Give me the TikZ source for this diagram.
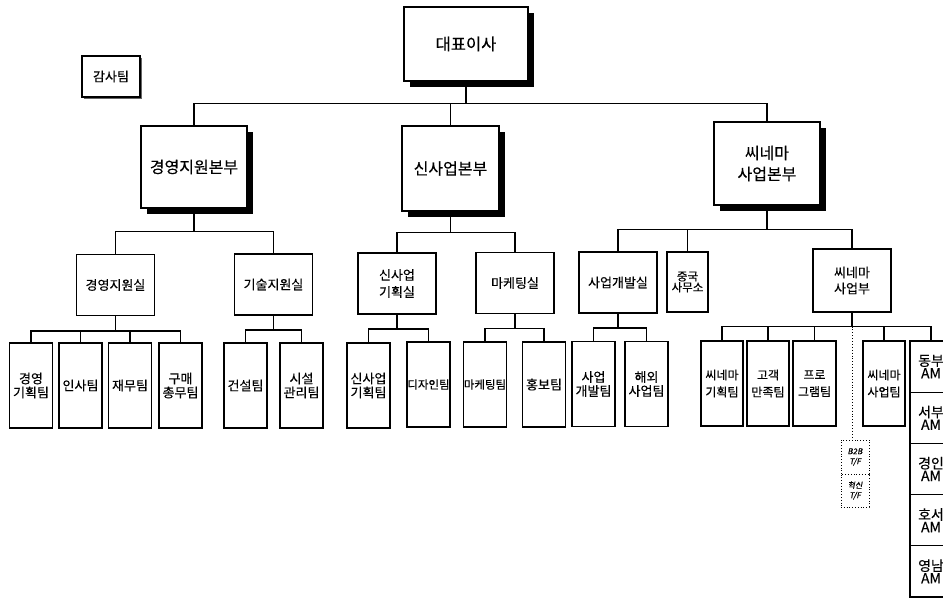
\documentclass[tikz,border=0pt]{standalone}
\usepackage{fontspec}
\setmainfont{Noto Sans CJK KR}[FakeBold=0.3]
\newfontfamily\krit[FakeSlant=0.2,FakeBold=0.3]{Noto Sans CJK KR}
\usetikzlibrary{shadows}
\begin{document}
\begin{tikzpicture}[x=1pt,y=-1pt,
  box/.style={draw, line width=1.1pt, fill=white, inner sep=0pt, align=center},
  fs/.style 2 args={font=\fontsize{#1pt}{#2pt}\selectfont},
  bigshadow/.style={drop shadow={shadow xshift=6pt, shadow yshift=-6pt, fill=black, opacity=1}},
  smallshadow/.style={drop shadow={shadow xshift=2pt, shadow yshift=-2pt, fill=black!60, opacity=1}},
  hqbox/.style={box, bigshadow, fs={16}{21}},
  dbox/.style={box, minimum width=78pt, minimum height=61pt, fs={13}{17}},
  leaf/.style={box, minimum width=43pt, minimum height=85pt, fs={13}{14}},
  cleaf/.style={box, minimum width=43pt, minimum height=85pt, fs={12}{17}},
  ambox/.style={box, minimum width=42pt, minimum height=51.2pt, fs={14}{12.5}},
  tfbox/.style={draw, dotted, line width=0.8pt, fill=white, inner sep=0pt, align=center, minimum width=28pt, font=\krit\fontsize{8pt}{10pt}\selectfont},
  conn/.style={draw, line width=1.2pt},
  dconn/.style={draw, dotted, line width=0.9pt}
]
\useasboundingbox (0,0) rectangle (943,599);
\clip (0,0) rectangle (943,599);

% top
\node[box, bigshadow, minimum width=124pt, minimum height=74pt, fs={16.5}{19}] (ceo) at (466,44) {대표이사};
\node[box, smallshadow, minimum width=58pt, minimum height=41pt, fs={13}{14}] (audit) at (111,76.5) {감사팀};

% headquarters
\node[hqbox, minimum width=106pt, minimum height=82pt] (hq1) at (194,167) {경영지원본부};
\node[hqbox, minimum width=97pt, minimum height=85pt] (hq2) at (450.5,168.5) {신사업본부};
\node[hqbox, minimum width=106pt, minimum height=83pt] (hq3) at (767,163.5) {씨네마\\사업본부};

% departments
\node[dbox] (d1) at (115.5,285) {경영지원실};
\node[dbox] (d2) at (273.5,284.5) {기술지원실};
\node[dbox] (d3) at (397,283.5) {신사업\\기획실};
\node[dbox] (d4) at (515,283) {마케팅실};
\node[dbox] (d5) at (618,282.5) {사업개발실};
\node[box, minimum width=41pt, minimum height=60pt, fs={11.5}{11}] (d6) at (687.5,282) {중국\\사무소};
\node[dbox, minimum height=63pt, fs={13}{16}] (d7) at (852,280.5) {씨네마\\사업부};

% teams
\node[leaf] (t1) at (31,385.5) {경영\\기획팀};
\node[leaf] (t2) at (80.5,385.5) {인사팀};
\node[leaf] (t3) at (130,385.5) {재무팀};
\node[leaf] (t4) at (180.5,385.5) {구매\\총무팀};
\node[leaf] (t5) at (245.5,385.5) {건설팀};
\node[leaf] (t6) at (301.5,385.5) {시설\\관리팀};
\node[leaf] (t7) at (368.5,385.5) {신사업\\기획팀};
\node[leaf, fs={11.5}{14}] (t8) at (428.5,384.5) {디자인팀};
\node[leaf, minimum width=42pt, fs={11.5}{14}] (t9) at (485,384.5) {마케팅팀};
\node[leaf] (t10) at (544,384.5) {홍보팀};
\node[leaf] (t11) at (593.5,384) {사업\\개발팀};
\node[leaf] (t12) at (646.5,384) {해외\\사업팀};
\node[cleaf, minimum width=42pt] (t13) at (722,383.5) {씨네마\\기획팀};
\node[cleaf, minimum width=42pt] (t14) at (768,383.5) {고객\\만족팀};
\node[cleaf] (t15) at (814.5,383.5) {프로\\그램팀};
\node[cleaf, minimum width=42pt] (t16) at (884,383.5) {씨네마\\사업팀};

% regional AM column
\node[ambox] (a1) at (931,366.6) {동부\\AM};
\node[ambox] (a2) at (931,417.8) {서부\\AM};
\node[ambox] (a3) at (931,469.0) {경인\\AM};
\node[ambox] (a4) at (931,520.2) {호서\\AM};
\node[ambox] (a5) at (931,571.4) {영남\\AM};

% task forces
\node[tfbox, minimum height=34pt] (tf1) at (855,457) {B2B\\T/F};
\node[tfbox, minimum height=33pt] (tf2) at (855,490.5) {혁신\\T/F};

% connectors: level 0
\draw[conn] (ceo.south) -- ++(0,22) coordinate (j0);
\draw[conn] (hq1.north) |- (j0) -| (hq3.north);
\draw[conn] (j0) -| (hq2.north);

% level 1
\draw[conn] (hq1.south) -- ++(0,23) coordinate (j1);
\draw[conn] (d1.north) |- (j1) -| (d2.north);
\draw[conn] (hq2.south) -- ++(0,21) coordinate (j2);
\draw[conn] (d3.north) |- (j2) -| (d4.north);
\draw[conn] (hq3.south) -- ++(0,24) coordinate (j3);
\draw[conn] (d5.north) |- (j3) -| (d7.north);
\draw[conn] (j3) -| (d6.north);

% level 2
\draw[conn] (d1.south) -- ++(0,15) coordinate (k1);
\draw[conn] (t1.north) |- (k1) -| (t4.north);
\draw[conn] (k1) -| (t2.north);
\draw[conn] (k1) -| (t3.north);
\draw[conn] (d2.south) -- ++(0,14.5) coordinate (k2);
\draw[conn] (t5.north) |- (k2) -| (t6.north);
\draw[conn] (d3.south) -- ++(0,14.5) coordinate (k3);
\draw[conn] (t7.north) |- (k3) -| (t8.north);
\draw[conn] (d4.south) -- ++(0,14.5) coordinate (k4);
\draw[conn] (t9.north) |- (k4) -| (t10.north);
\draw[conn] (d5.south) -- ++(0,14.5) coordinate (k5);
\draw[conn] (t11.north) |- (k5) -| (t12.north);
\draw[conn] (d7.south) -- ++(0,14) coordinate (k7);
\draw[conn] (t13.north) |- (k7) -| (a1.north);
\draw[conn] (k7) -| (t14.north);
\draw[conn] (k7) -| (t15.north);
\draw[conn] (k7) -| (t16.north);
\draw[dconn] (k7) -- (k7 |- tf1.north);
\end{tikzpicture}
\end{document}
